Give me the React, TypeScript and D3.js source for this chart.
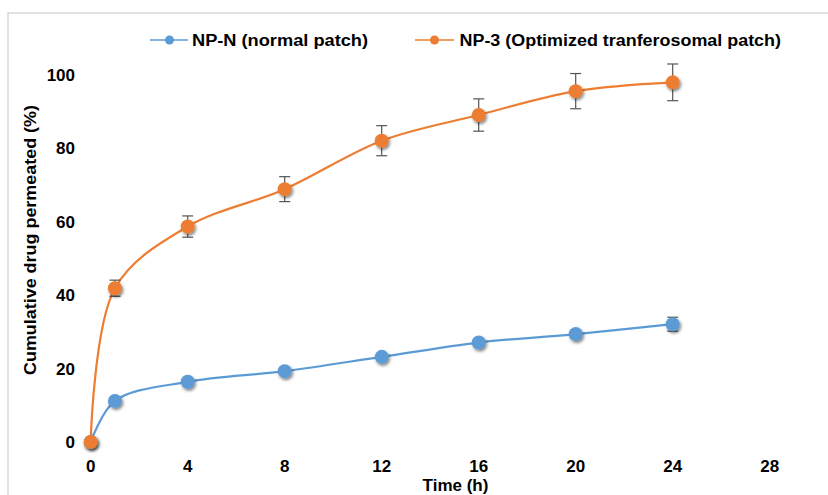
import React from "react";
import * as d3 from "d3";

// Sampling times (h)
const times = [0, 1, 4, 8, 12, 16, 20, 24];
// Cumulative drug permeated (%) per formulation
const normalPatch = [0, 11.2, 16.4, 19.3, 23.2, 27.1, 29.4, 32.1];
const normalPatchSD = [0, 0.6, 0.7, 0.8, 0.9, 1.0, 1.1, 1.9];
const optimizedPatch = [0, 41.9, 58.7, 68.9, 82.1, 89.1, 95.6, 98.0];
const optimizedPatchSD = [0, 2.2, 2.9, 3.4, 4.1, 4.4, 4.8, 5.0];

const xTicks = [0, 4, 8, 12, 16, 20, 24, 28];
const yTicks = [0, 20, 40, 60, 80, 100];

const seriesNames = ["NP-N (normal patch)", "NP-3 (Optimized tranferosomal patch)"];
const seriesColors = ["#5B9BD5", "#ED7D31"];

const W = 828;
const H = 495;
const FONT = "'Liberation Sans', Arial, Helvetica, sans-serif";

export default function App() {
  const x = d3.scaleLinear().domain([0, 28]).range([90.7, 769.7]);
  const y = d3.scaleLinear().domain([0, 100]).range([442, 75]);

  const line = d3
    .line<[number, number]>()
    .x((d) => x(d[0]))
    .y((d) => y(d[1]))
    .curve(d3.curveCatmullRom.alpha(0.5));

  const series = [
    { values: normalPatch, sd: normalPatchSD, color: seriesColors[0] },
    { values: optimizedPatch, sd: optimizedPatchSD, color: seriesColors[1] },
  ];

  return (
    <svg
      width={W}
      height={H}
      style={{ position: "fixed", left: 0, top: 0, background: "#fff" }}
      fontFamily={FONT}
    >
      <defs>
        <filter id="markerShadow" x="-50%" y="-50%" width="200%" height="200%">
          <feDropShadow dx="1.3" dy="2" stdDeviation="1.5" floodColor="#000" floodOpacity="0.5" />
        </filter>
      </defs>

      {/* chart frame */}
      <rect x={8} y={13} width={W + 20} height={H + 20} fill="none" stroke="#D9D9D9" strokeWidth={1.5} />

      {/* y tick labels */}
      {yTicks.map((t) => (
        <text key={`y${t}`} x={75} y={y(t) + 6} textAnchor="end" fontSize={17} fontWeight="bold" fill="#000">
          {t}
        </text>
      ))}

      {/* x tick labels */}
      {xTicks.map((t) => (
        <text key={`x${t}`} x={x(t)} y={471.5} textAnchor="middle" fontSize={17} fontWeight="bold" fill="#000">
          {t}
        </text>
      ))}

      {/* axis titles */}
      <text x={455.5} y={491} textAnchor="middle" fontSize={17} fontWeight="bold" fill="#000">
        Time (h)
      </text>
      <text
        transform="translate(36,240) rotate(-90)"
        textAnchor="middle"
        fontSize={17}
        fontWeight="bold"
        fill="#000"
        textLength={270}
        lengthAdjust="spacingAndGlyphs"
      >
        Cumulative drug permeated (%)
      </text>

      {/* lines */}
      {series.map((s, i) => (
        <path
          key={`l${i}`}
          d={line(times.map((t, j) => [t, s.values[j]] as [number, number])) || ""}
          fill="none"
          stroke={s.color}
          strokeWidth={2.2}
        />
      ))}

      {/* error bars */}
      {series.map((s, i) =>
        times.map((t, j) =>
          s.sd[j] > 0 ? (
            <g key={`e${i}-${j}`} stroke="#555" strokeWidth={1.2}>
              <line x1={x(t)} x2={x(t)} y1={y(s.values[j] + s.sd[j])} y2={y(s.values[j] - s.sd[j])} />
              <line x1={x(t) - 5.5} x2={x(t) + 5.5} y1={y(s.values[j] + s.sd[j])} y2={y(s.values[j] + s.sd[j])} />
              <line x1={x(t) - 5.5} x2={x(t) + 5.5} y1={y(s.values[j] - s.sd[j])} y2={y(s.values[j] - s.sd[j])} />
            </g>
          ) : null
        )
      )}

      {/* markers */}
      {series.map((s, i) =>
        times.map((t, j) => (
          <circle
            key={`m${i}-${j}`}
            cx={x(t)}
            cy={y(s.values[j])}
            r={7}
            fill={s.color}
            filter="url(#markerShadow)"
          />
        ))
      )}

      {/* legend */}
      {[
        { x1: 150, x2: 188, cx: 169.5, tx: 192, len: 176 },
        { x1: 415, x2: 454, cx: 434.5, tx: 459.5, len: 321.5 },
      ].map((l, i) => (
        <g key={`lg${i}`}>
          <line x1={l.x1} x2={l.x2} y1={40} y2={40} stroke={seriesColors[i]} strokeWidth={1.5} />
          <circle cx={l.cx} cy={40} r={4.5} fill={seriesColors[i]} />
          <text
            x={l.tx}
            y={46}
            fontSize={16}
            fontWeight="bold"
            fill="#000"
            textLength={l.len}
            lengthAdjust="spacingAndGlyphs"
          >
            {seriesNames[i]}
          </text>
        </g>
      ))}
    </svg>
  );
}
